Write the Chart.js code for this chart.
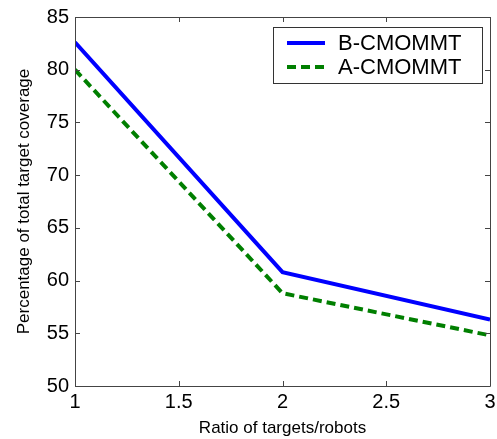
<!DOCTYPE html>
<html>
<head>
<meta charset="utf-8">
<script src="https://cdn.jsdelivr.net/npm/chart.js@4"></script>
<style>
html,body{margin:0;padding:0;background:#fff;}
#wrap{width:497px;height:439px;}
</style>
</head>
<body>
<div id="wrap"><canvas id="c" width="497" height="439"></canvas></div>
<script>
const ratios = [1, 2, 3];
const bValues = [82.6, 60.8, 56.3];
const aValues = [80.0, 58.8, 54.8];
const seriesNames = ["B-CMOMMT", "A-CMOMMT"];
const xTickValues = [1, 1.5, 2, 2.5, 3];
const yTickValues = [50, 55, 60, 65, 70, 75, 80, 85];

const toPts = (vals) => ratios.map((r, i) => ({x: r, y: vals[i]}));

const framePlugin = {
  id: 'frame',
  afterDraw(chart) {
    const ctx = chart.ctx;
    const a = chart.chartArea;
    const xs = chart.scales.x, ys = chart.scales.y;
    ctx.save();
    ctx.strokeStyle = '#444';
    ctx.lineWidth = 1;
    ctx.beginPath();
    ctx.rect(Math.round(a.left) + 0.5, Math.round(a.top) + 0.5, Math.round(a.right - a.left), Math.round(a.bottom - a.top));
    ctx.stroke();
    const tl = 5;
    ctx.beginPath();
    xTickValues.forEach(v => {
      const px = Math.round(xs.getPixelForValue(v)) + 0.5;
      ctx.moveTo(px, a.bottom); ctx.lineTo(px, a.bottom - tl);
      ctx.moveTo(px, a.top); ctx.lineTo(px, a.top + tl);
    });
    yTickValues.forEach(v => {
      const py = Math.round(ys.getPixelForValue(v)) + 0.5;
      ctx.moveTo(a.left, py); ctx.lineTo(a.left + tl, py);
      ctx.moveTo(a.right, py); ctx.lineTo(a.right - tl, py);
    });
    ctx.stroke();

    // legend
    const lx = 273.5, ly = 27.5, lw = 209, lh = 56;
    ctx.fillStyle = '#fff';
    ctx.fillRect(lx, ly, lw, lh);
    ctx.strokeStyle = '#333';
    ctx.strokeRect(lx, ly, lw, lh);
    ctx.font = '22px "Liberation Sans", Arial, sans-serif';
    ctx.textBaseline = 'middle';
    ctx.fillStyle = '#000';
    chart.data.datasets.forEach((ds, i) => {
      const cy = 43 + i * 24;
      ctx.save();
      ctx.strokeStyle = ds.borderColor;
      ctx.lineWidth = ds.borderWidth;
      ctx.setLineDash(ds.borderDash || []);
      ctx.beginPath();
      ctx.moveTo(287, cy); ctx.lineTo(325, cy);
      ctx.stroke();
      ctx.restore();
      ctx.fillText(ds.label, 338, cy + 1);
    });
    ctx.restore();
  }
};

const fmt = (v) => String(v);

new Chart(document.getElementById('c'), {
  type: 'line',
  data: {
    datasets: [
      {label: seriesNames[0], data: toPts(bValues), borderColor: '#0000ff', borderWidth: 4, pointRadius: 0, tension: 0, fill: false},
      {label: seriesNames[1], data: toPts(aValues), borderColor: '#007f00', borderWidth: 4, borderDash: [9, 5], pointRadius: 0, tension: 0, fill: false}
    ]
  },
  options: {
    responsive: false,
    animation: false,
    layout: {padding: {top: 17, right: 7, left: 0, bottom: 0}},
    plugins: {legend: {display: false}, tooltip: {enabled: false}},
    scales: {
      x: {
        type: 'linear', min: 1, max: 3,
        afterBuildTicks: (s) => { s.ticks = xTickValues.map(v => ({value: v})); },
        afterFit: (s) => { s.height = 53; s.paddingRight = 0; s.paddingLeft = 0; },
        grid: {display: false, drawTicks: false},
        border: {display: false},
        ticks: {padding: 4, color: '#000', callback: fmt, font: {family: '"Liberation Sans", Arial, sans-serif', size: 20}, maxRotation: 0, autoSkip: false},
        title: {display: true, text: 'Ratio of targets/robots', color: '#000', padding: {top: 0, bottom: 0}, font: {family: '"Liberation Sans", Arial, sans-serif', size: 17, weight: 'normal'}}
      },
      y: {
        type: 'linear', min: 50, max: 85,
        afterBuildTicks: (s) => { s.ticks = yTickValues.map(v => ({value: v})); },
        afterFit: (s) => { s.width = 75; s.paddingTop = 0; s.paddingBottom = 0; },
        grid: {display: false, drawTicks: false},
        border: {display: false},
        ticks: {padding: 6, color: '#000', callback: fmt, font: {family: '"Liberation Sans", Arial, sans-serif', size: 20}, autoSkip: false},
        title: {display: true, text: 'Percentage of total target coverage', color: '#000', padding: {top: 14, bottom: 0}, font: {family: '"Liberation Sans", Arial, sans-serif', size: 17, weight: 'normal'}}
      }
    }
  },
  plugins: [framePlugin]
});
</script>
</body>
</html>
